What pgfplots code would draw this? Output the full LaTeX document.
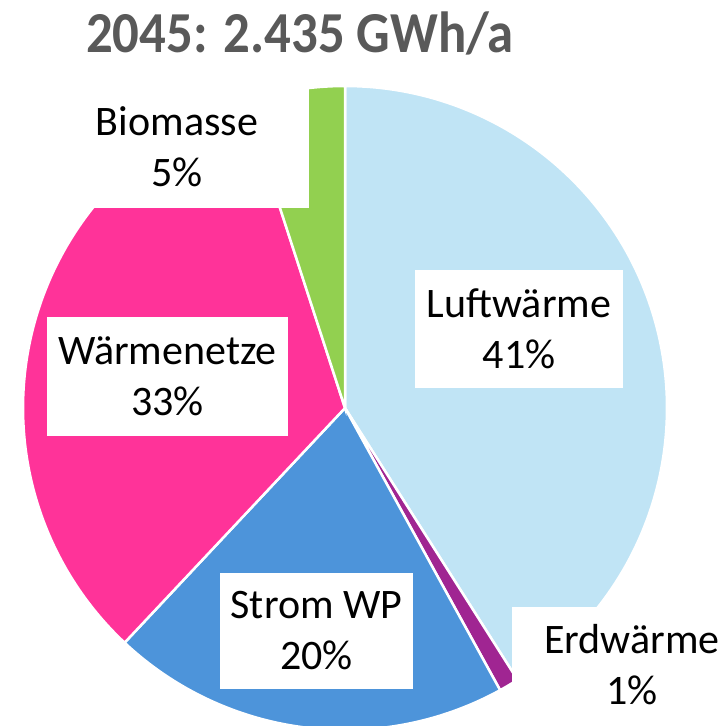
\documentclass[border=0pt]{standalone}
\usepackage{pgfplots}
\pgfplotsset{compat=1.18}
\usepackage{fontspec}
\setmainfont{Carlito}
\definecolor{cLuft}{RGB}{192,228,245}
\definecolor{cErd}{RGB}{160,37,146}
\definecolor{cStrom}{RGB}{77,148,218}
\definecolor{cNetz}{RGB}{255,51,153}
\definecolor{cBio}{RGB}{146,208,80}
\definecolor{cTitle}{RGB}{89,89,89}
% shares in percent (clockwise from 12 o'clock)
\def\pLuft{41}
\def\pErd{1}
\def\pStrom{20}
\def\pNetz{33}
\def\pBio{5}
\newcommand{\lab}{\fontsize{42}{51}\selectfont}
\begin{document}
\begin{tikzpicture}
\useasboundingbox (0,0) rectangle (727pt,725pt);
\begin{axis}[
  scale only axis, width=727pt, height=725pt,
  xmin=0, xmax=727, ymin=0, ymax=725,
  hide axis, clip=true,
]
\pgfmathsetmacro{\aA}{90}
\pgfmathsetmacro{\aB}{\aA-3.6*\pLuft}
\pgfmathsetmacro{\aC}{\aB-3.6*\pErd}
\pgfmathsetmacro{\aD}{\aC-3.6*\pStrom}
\pgfmathsetmacro{\aE}{\aD-3.6*\pNetz}
\pgfmathsetmacro{\aF}{\aE-3.6*\pBio}
\addplot[fill=cLuft, draw=white, line width=2.5pt, domain=\aB:\aA, samples=120, variable=\t]
  ({345+322*cos(\t)}, {317+322*sin(\t)}) -- (axis cs:345,317) -- cycle;
\addplot[fill=cErd, draw=white, line width=2.5pt, domain=\aC:\aB, samples=10, variable=\t]
  ({345+322*cos(\t)}, {317+322*sin(\t)}) -- (axis cs:345,317) -- cycle;
\addplot[fill=cStrom, draw=white, line width=2.5pt, domain=\aD:\aC, samples=80, variable=\t]
  ({345+322*cos(\t)}, {317+322*sin(\t)}) -- (axis cs:345,317) -- cycle;
\addplot[fill=cNetz, draw=white, line width=2.5pt, domain=\aE:\aD, samples=100, variable=\t]
  ({345+322*cos(\t)}, {317+322*sin(\t)}) -- (axis cs:345,317) -- cycle;
\addplot[fill=cBio, draw=white, line width=2.5pt, domain=\aF:\aE, samples=20, variable=\t]
  ({345+322*cos(\t)}, {317+322*sin(\t)}) -- (axis cs:345,317) -- cycle;
% label boxes
\node[fill=white, minimum width=208pt, minimum height=118pt, inner sep=0pt, align=center, font=\lab] at (axis cs:519,396) {Luftwärme\\41\%};
\node[fill=white, minimum width=241pt, minimum height=119pt, inner sep=0pt, align=center, font=\lab] at (axis cs:167.5,348.5) {Wärmenetze\\33\%};
\node[fill=white, minimum width=193pt, minimum height=116pt, inner sep=0pt, align=center, font=\lab] at (axis cs:316.5,94) {Strom WP\\20\%};
\node[fill=white, minimum width=264pt, minimum height=123pt, inner sep=0pt, align=center, font=\lab] at (axis cs:177,578) {Biomasse\\5\%};
\node[fill=white, minimum width=240pt, minimum height=116pt, inner sep=0pt, align=center, font=\lab] at (axis cs:632,60) {Erdwärme\\1\%};
% title
\node[font=\fontsize{58}{64}\selectfont\bfseries, text=cTitle, inner sep=0pt, xscale=0.91] at (axis cs:300,692) {2045: 2.435 GWh/a};
\end{axis}
\end{tikzpicture}
\end{document}
